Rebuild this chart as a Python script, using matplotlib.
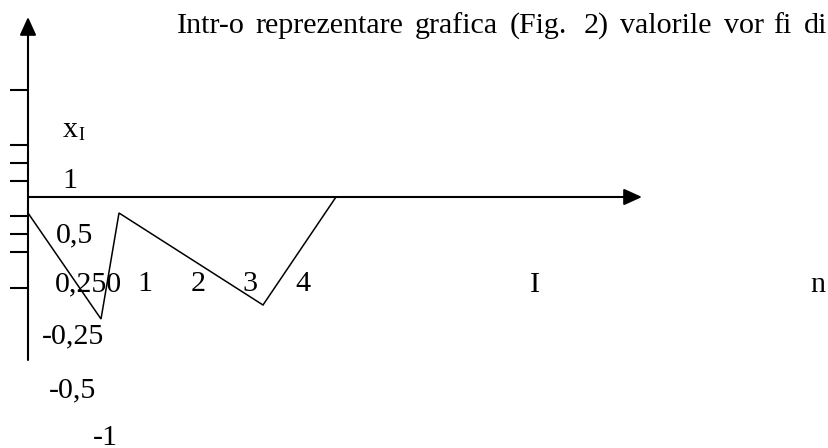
import matplotlib
matplotlib.use("Agg")
from matplotlib import pyplot as plt

# figure drawn in "scan units": origin at the axes crossing, 1 unit = 10 px
line_x = [0.0, 7.3, 9.1, 23.5, 30.8]
line_y = [-1.6, -12.2, -1.6, -10.8, 0.0]

tick_y = [10.7, 5.2, 3.4, 1.6, -1.9, -3.7, -5.5, -9.1]

x_axis_end = 61.4
y_axis_bottom = -16.3
y_axis_top = 18.0

# justified line of text above the figure, one word at a time
title_words = ["Intr-o", "reprezentare", "grafica", "(Fig.", "2)", "valorile", "vor", "fi", "di"]
title_word_x = [14.9, 22.7, 38.7, 48.2, 55.6, 59.2, 69.6, 74.5, 77.6]

# labels: (text, x, y baseline, alignment)
left_labels = [
    ("1", 4.2, 0.9, "center"),
    ("0,5", 2.8, -4.5, "left"),
    ("0,250", 2.7, -9.4, "left"),
    ("-0,25", 1.4, -14.6, "left"),
    ("-0,5", 2.1, -20.0, "left"),
    ("-1", 6.5, -24.8, "left"),
]
n_labels = ["1", "2", "3", "4"]
n_label_x = [11.7, 17.0, 22.2, 27.5]
far_labels = [("I", 50.7), ("n", 79.0)]

FONT = "Liberation Serif"
FS = 21.6

fig = plt.figure(figsize=(8.29, 4.48), dpi=100)
ax = fig.add_axes([0, 0, 1, 1])
ax.set_xlim(-2.8, 80.1)
ax.set_ylim(-25.1, 19.7)
ax.axis("off")

arrow = dict(arrowstyle="-|>,head_length=1.1,head_width=0.5", mutation_scale=10,
             lw=1.5, color="black", shrinkA=0, shrinkB=0)
ax.annotate("", xy=(0, y_axis_top), xytext=(0, y_axis_bottom), arrowprops=arrow)
ax.annotate("", xy=(x_axis_end, 0), xytext=(0, 0), arrowprops=arrow)

ax.hlines(tick_y, -1.8, 0, colors="black", lw=1.5)

ax.plot(line_x, line_y, color="black", lw=1.1, solid_joinstyle="miter")

for word, x in zip(title_words, title_word_x):
    ax.text(x, 16.4, word, family=FONT, fontsize=FS, va="baseline", ha="left")

ax.text(3.5, 6.0, "x", family=FONT, fontsize=FS, va="baseline", ha="left")
ax.text(5.0, 5.7, "I", family=FONT, fontsize=13, va="baseline", ha="left")

for txt, x, y, ha in left_labels:
    ax.text(x, y, txt, family=FONT, fontsize=FS, va="baseline", ha=ha, clip_on=False)

for txt, x in zip(n_labels, n_label_x):
    ax.text(x, -9.4, txt, family=FONT, fontsize=FS, va="baseline", ha="center")

for txt, x in far_labels:
    ax.text(x, -9.5, txt, family=FONT, fontsize=FS, va="baseline", ha="center")

fig.savefig("out.png", dpi=100)
